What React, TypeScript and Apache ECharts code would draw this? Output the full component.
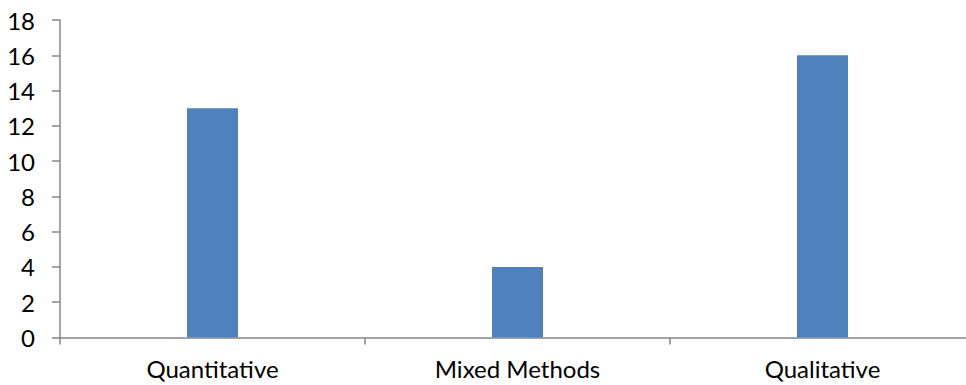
import React, { useEffect, useRef } from "react";
import * as echarts from "echarts";

const categories = ["Quantitative", "Mixed Methods", "Qualitative"];
const counts = [13, 4, 16];
const yMin = 0;
const yMax = 18;
const yStep = 2;

const axisGray = "#868686";
const barBlue = "#4F81BD";
const fontFamily = "Lato, 'Open Sans', sans-serif";

export default function App() {
  const ref = useRef<HTMLDivElement>(null);

  useEffect(() => {
    if (!ref.current) return;
    const chart = echarts.init(ref.current, undefined, { renderer: "svg" });
    chart.setOption({
      animation: false,
      backgroundColor: "#ffffff",
      // the plot runs slightly past the right edge of the visible frame
      grid: { left: 60, top: 20, right: 5, height: 317.5 },
      xAxis: {
        type: "category",
        data: categories,
        axisLine: { lineStyle: { color: axisGray, width: 1.5 } },
        axisTick: { show: true, length: 7, alignWithLabel: false, lineStyle: { color: axisGray, width: 1.5 } },
        axisLabel: { color: "#000", fontSize: 24, fontFamily, margin: 19 },
        splitLine: { show: false },
      },
      yAxis: {
        type: "value",
        min: yMin,
        max: yMax,
        interval: yStep,
        axisLine: { show: true, lineStyle: { color: axisGray, width: 1.5 } },
        axisTick: { show: true, length: 8, lineStyle: { color: axisGray, width: 1.5 } },
        axisLabel: { color: "#000", fontSize: 24, fontFamily, margin: 25 },
        splitLine: { show: false },
      },
      series: [
        {
          type: "bar",
          data: counts,
          barWidth: 51,
          itemStyle: { color: barBlue },
        },
      ],
    });
    return () => chart.dispose();
  }, []);

  return (
    <div
      style={{
        position: "absolute",
        left: 0,
        top: 0,
        width: 966,
        height: 385,
        overflow: "hidden",
        background: "#fff",
      }}
    >
      <div ref={ref} style={{ width: 980, height: 385 }} />
    </div>
  );
}
